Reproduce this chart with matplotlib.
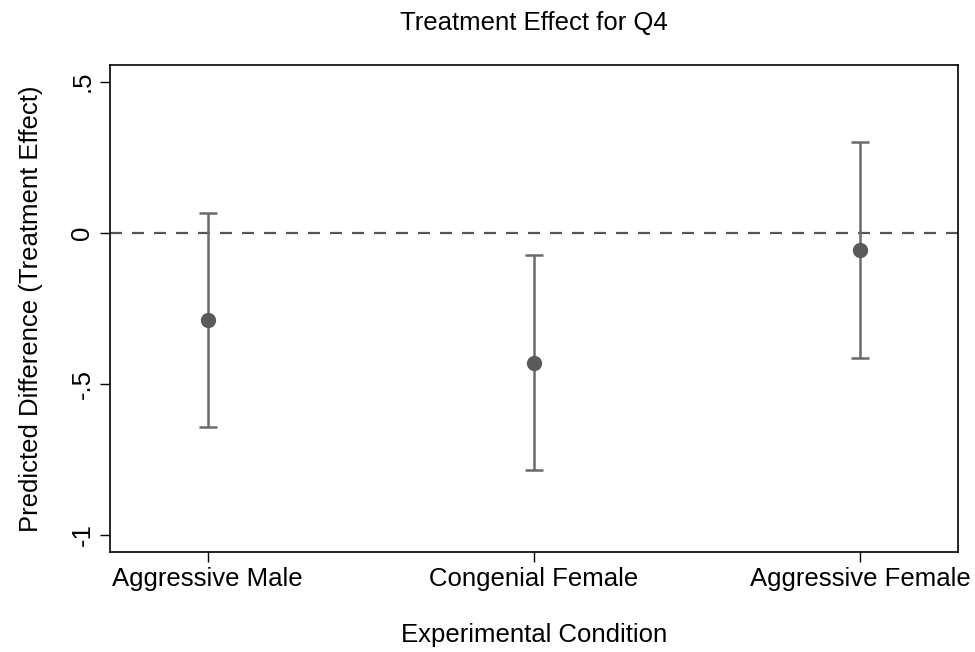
import matplotlib
matplotlib.use("Agg")
import matplotlib.pyplot as plt

plt.rcParams['font.family'] = ['Liberation Sans', 'DejaVu Sans']

conditions = ["Aggressive Male", "Congenial Female", "Aggressive Female"]
effects = [-0.289, -0.430, -0.057]
ci_lower = [-0.644, -0.785, -0.414]
ci_upper = [0.066, -0.075, 0.299]
yticks = [-1, -0.5, 0, 0.5]
ytick_labels = ["-1", "-.5", "0", ".5"]

fig = plt.figure(figsize=(9.75, 6.52), dpi=100)
ax = fig.add_axes([0.1125, 0.1534, 0.8701, 0.7469])

xs = list(range(1, len(conditions) + 1))
err_lo = [e - l for e, l in zip(effects, ci_lower)]
err_hi = [u - e for e, u in zip(effects, ci_upper)]

ax.axhline(0, color="#555555", linestyle=(0, (5.4, 4.5)), linewidth=1.6, zorder=1)
ax.errorbar(xs, effects, yerr=[err_lo, err_hi], fmt="o", color="#5a5a5a",
            ecolor="#6a6a6a", elinewidth=1.8, capsize=6.5, capthick=1.8,
            markersize=10, zorder=3)

ax.set_xlim(0.7, 3.3)
ax.set_ylim(-1.057, 0.555)
ax.set_xticks(xs)
ax.set_xticklabels(conditions, fontsize=18.5)
ax.set_yticks(yticks)
ax.set_yticklabels(ytick_labels, fontsize=18.5, rotation=90, va="center")
ax.tick_params(length=7.5, width=1.0, color="black", pad=3.5)
for s in ax.spines.values():
    s.set_linewidth(1.2)

ax.set_xlabel("Experimental Condition", fontsize=18.5, labelpad=23)
ax.set_ylabel("Predicted Difference (Treatment Effect)", fontsize=18.5, labelpad=20)
ax.set_title("Treatment Effect for Q4", fontsize=18.5, pad=25)

fig.savefig("out.png", dpi=100)
